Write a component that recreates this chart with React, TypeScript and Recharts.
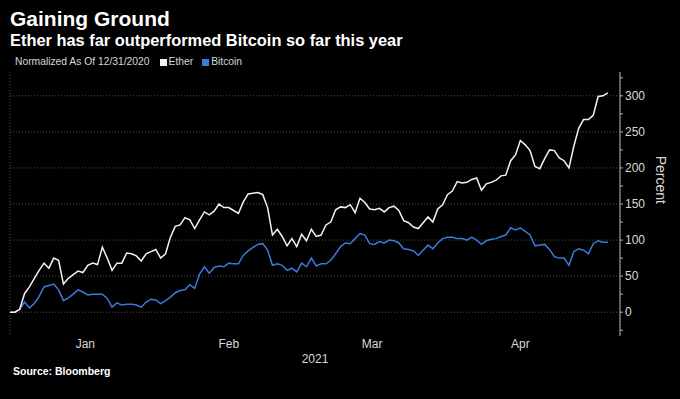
import { LineChart, Line, XAxis, YAxis, CartesianGrid, ReferenceLine } from 'recharts'

// days since 12/31/2020, one point per day
const etherValues = [
  0, 0, 4, 26, 35, 47, 58, 68, 61, 75, 72, 39, 47, 52, 57, 55, 65, 68, 66, 90,
  75, 58, 68, 68, 82, 81, 78, 71, 81, 84, 87, 75, 81, 104, 119, 121, 131, 128, 116, 128,
  139, 135, 140, 150, 145, 145, 141, 137, 153, 164, 165, 166, 163, 145, 107, 115, 105, 92, 102, 91,
  108, 99, 115, 105, 107, 121, 125, 142, 146, 145, 149, 138, 158, 152, 143, 142, 144, 139, 145, 147,
  141, 127, 124, 118, 116, 124, 132, 125, 143, 149, 163, 168, 181, 179, 180, 184, 186, 169, 178, 180,
  183, 189, 190, 210, 218, 238, 232, 224, 202, 199, 213, 225, 224, 214, 210, 200, 230, 255, 267, 267,
  273, 299, 300, 304,
]

const bitcoinValues = [
  0, 0, 4, 14, 6, 12, 22, 35, 37, 39, 31, 16, 20, 25, 31, 28, 24, 25, 25, 25,
  19, 7, 13, 10, 11, 11, 10, 7, 14, 18, 17, 12, 16, 21, 27, 30, 31, 38, 33, 53,
  63, 54, 62, 64, 63, 68, 67, 67, 79, 85, 90, 94, 95, 86, 65, 67, 65, 58, 61, 56,
  68, 63, 75, 64, 67, 67, 72, 81, 91, 96, 95, 102, 109, 107, 95, 94, 98, 96, 100, 99,
  96, 88, 87, 85, 79, 86, 93, 88, 96, 102, 104, 104, 102, 102, 100, 104, 100, 94, 99, 101,
  102, 105, 107, 117, 114, 117, 112, 107, 92, 93, 94, 87, 77, 75, 75, 65, 84, 88, 86, 81,
  95, 99, 97, 97,
]

const monthStarts = [0, 31, 59, 90, 120]
const monthMids = [15.5, 45, 74.5, 105]
const monthNames = ['Jan', 'Feb', 'Mar', 'Apr']
const yTicks = [-25, 0, 25, 50, 75, 100, 125, 150, 175, 200, 225, 250, 275, 300, 325]
const yGrid = [0, 50, 100, 150, 200, 250, 300]

const data = etherValues.map((v, i) => ({ day: i, ether: v, bitcoin: bitcoinValues[i] }))

const FONT = '"Liberation Sans", Arial, sans-serif'
const ETHER = '#f2f2f2'
const BITCOIN = '#3a7ad8'
const GRID = '#505050'
const AXIS = '#b0b0b0'
const TEXT = '#d8d8d8'

export default function App() {
  return (
    <div style={{ position: 'relative', width: 680, height: 399, background: '#000', fontFamily: FONT }}>
      <style>{'body{margin:0;background:#000}'}</style>
      <div style={{ position: 'absolute', left: 10, top: 7, color: '#fff', fontSize: 21, fontWeight: 700, lineHeight: '24px' }}>
        Gaining Ground
      </div>
      <div style={{ position: 'absolute', left: 10, top: 30, color: '#fff', fontSize: 16.4, fontWeight: 700, lineHeight: '20px' }}>
        Ether has far outperformed Bitcoin so far this year
      </div>
      <div style={{ position: 'absolute', left: 15, top: 55, color: TEXT, fontSize: 10.3, lineHeight: '14px', display: 'flex', alignItems: 'center', whiteSpace: 'nowrap' }}>
        <span>Normalized As Of 12/31/2020</span>
        <span style={{ display: 'inline-block', width: 7, height: 7, background: ETHER, marginLeft: 10, marginRight: 2 }} />
        <span>Ether</span>
        <span style={{ display: 'inline-block', width: 7, height: 7, background: BITCOIN, marginLeft: 9, marginRight: 2 }} />
        <span>Bitcoin</span>
      </div>

      <LineChart width={680} height={399} data={data} margin={{ top: 72, right: 0, bottom: 33, left: 10 }}>
        <CartesianGrid xAxisId="b" horizontal={false} stroke={GRID} strokeDasharray="1 2" />
        {yGrid.map((v) => (
          <ReferenceLine key={v} xAxisId="b" y={v} stroke={GRID} strokeDasharray="1 2" />
        ))}
        <XAxis
          xAxisId="b"
          dataKey="day"
          type="number"
          domain={[0, 125.5]}
          ticks={monthStarts}
          tick={false}
          tickSize={4}
          height={0}
          stroke={AXIS}
          allowDataOverflow
        />
        <XAxis
          xAxisId="m"
          dataKey="day"
          type="number"
          domain={[0, 125.5]}
          ticks={monthMids}
          tickFormatter={(v: number) => monthNames[monthMids.indexOf(v)]}
          axisLine={false}
          tickLine={false}
          tickSize={0}
          tickMargin={3}
          height={30}
          tick={{ fill: TEXT, fontSize: 12, fontFamily: FONT }}
          label={{ value: '2021', position: 'insideBottom', offset: 3, fill: TEXT, fontSize: 12, fontFamily: FONT }}
          allowDataOverflow
        />
        <YAxis
          orientation="right"
          domain={[-33, 333]}
          ticks={yTicks}
          interval={0}
          tickFormatter={(v: number) => (v % 50 === 0 && v >= 0 && v <= 300 ? String(v) : '')}
          tickSize={3}
          tickMargin={2}
          width={60}
          stroke={AXIS}
          tick={{ fill: TEXT, fontSize: 12, fontFamily: FONT, textAnchor: 'start' }}
          label={{ value: 'Percent', angle: 90, position: 'insideRight', offset: 19, fill: TEXT, fontSize: 14, fontFamily: FONT }}
          allowDataOverflow
        />
        <Line xAxisId="b" type="linear" dataKey="bitcoin" stroke={BITCOIN} strokeWidth={1.5} dot={false} isAnimationActive={false} />
        <Line xAxisId="b" type="linear" dataKey="ether" stroke={ETHER} strokeWidth={1.5} dot={false} isAnimationActive={false} />
      </LineChart>

      <div style={{ position: 'absolute', left: 13, top: 364, color: '#fff', fontSize: 10.5, fontWeight: 700, lineHeight: '14px' }}>
        Source: Bloomberg
      </div>
    </div>
  )
}
